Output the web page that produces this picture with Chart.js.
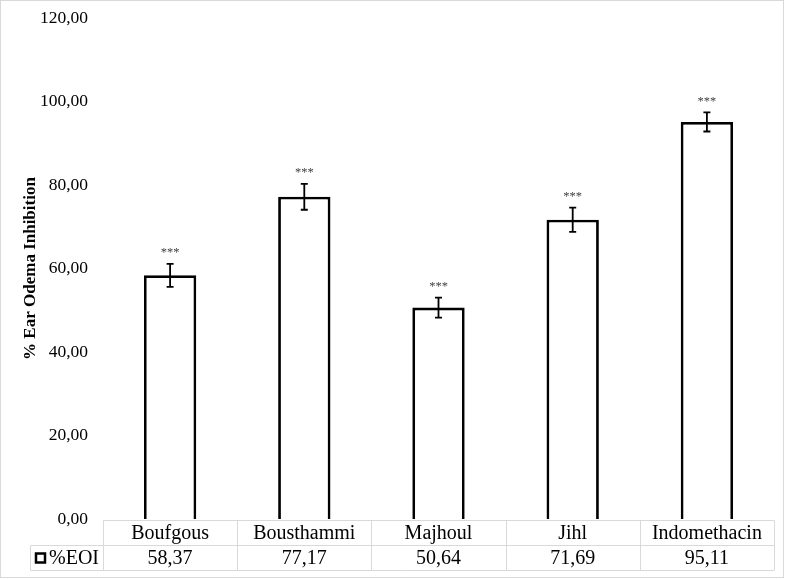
<!DOCTYPE html>
<html>
<head>
<meta charset="utf-8">
<script src="https://cdn.jsdelivr.net/npm/chart.js@4.4.0/dist/chart.umd.min.js"></script>
<style>
  html, body { margin: 0; padding: 0; background: #fff; }
  canvas { display: block; }
</style>
</head>
<body>
<canvas id="c" width="787" height="579"></canvas>
<script>
const categories = ['Boufgous', 'Bousthammi', 'Majhoul', 'Jihl', 'Indomethacin'];
const seriesName = '%EOI';
const values = [58.37, 77.17, 50.64, 71.69, 95.11];
const errors = [2.75, 3.1, 2.4, 2.9, 2.3];
const significance = ['***', '***', '***', '***', '***'];
const yMin = 0, yMax = 120, yStep = 20;
const yTitle = '% Ear Odema Inhibition';

const SERIF = '"Liberation Serif", "Times New Roman", serif';
const fmt = v => Number(v).toFixed(2).replace('.', ',');

const overlayPlugin = {
  id: 'overlay',
  afterDatasetsDraw(chart) {
    const ctx = chart.ctx;
    const x = chart.scales.x, y = chart.scales.y;
    ctx.save();
    values.forEach((v, i) => {
      const cx = x.getPixelForValue(i);
      const yt = y.getPixelForValue(v + errors[i]);
      const yb = y.getPixelForValue(v - errors[i]);
      ctx.strokeStyle = '#000';
      ctx.lineWidth = 1.8;
      ctx.beginPath();
      ctx.moveTo(cx, yt); ctx.lineTo(cx, yb);
      ctx.moveTo(cx - 3.5, yt); ctx.lineTo(cx + 3.5, yt);
      ctx.moveTo(cx - 3.5, yb); ctx.lineTo(cx + 3.5, yb);
      ctx.stroke();
      ctx.fillStyle = '#404040';
      ctx.font = '12.5px ' + SERIF;
      ctx.textAlign = 'center';
      ctx.textBaseline = 'middle';
      ctx.fillText(significance[i], cx, yt - 11);
    });
    ctx.restore();
  },
  afterDraw(chart) {
    const ctx = chart.ctx;
    const x = chart.scales.x;
    const area = chart.chartArea;
    const w = x.getPixelForValue(1) - x.getPixelForValue(0);
    const left = x.getPixelForValue(0) - w / 2;
    const right = x.getPixelForValue(categories.length - 1) + w / 2;
    const y0 = Math.round(area.bottom) + 1.5;
    const y1 = y0 + 25, y2 = y0 + 50;
    const legLeft = 30.5;
    ctx.save();
    ctx.strokeStyle = '#d9d9d9';
    ctx.lineWidth = 1;
    ctx.beginPath();
    ctx.moveTo(left, y0); ctx.lineTo(right, y0);
    ctx.moveTo(legLeft, y1); ctx.lineTo(right, y1);
    ctx.moveTo(legLeft, y2); ctx.lineTo(right, y2);
    ctx.moveTo(legLeft, y1); ctx.lineTo(legLeft, y2);
    for (let i = 0; i <= categories.length; i++) {
      const xx = Math.round(left + i * w) + 0.5;
      ctx.moveTo(xx, y0); ctx.lineTo(xx, y2);
    }
    ctx.stroke();
    ctx.strokeRect(0.5, 0.5, chart.width - 4, chart.height - 2);

    ctx.fillStyle = '#000';
    ctx.font = '20px ' + SERIF;
    ctx.textAlign = 'center';
    ctx.textBaseline = 'middle';
    categories.forEach((c, i) => {
      const cx = x.getPixelForValue(i);
      ctx.fillText(c, cx, (y0 + y1) / 2 + 1);
      ctx.fillText(fmt(values[i]), cx, (y1 + y2) / 2 + 1);
    });
    ctx.fillStyle = '#fff';
    ctx.strokeStyle = '#000';
    ctx.lineWidth = 2.5;
    ctx.fillRect(36, y1 + 8, 9, 9);
    ctx.strokeRect(36, y1 + 8, 9, 9);
    ctx.fillStyle = '#000';
    ctx.textAlign = 'left';
    ctx.fillText(seriesName, 49, (y1 + y2) / 2 + 1);
    ctx.restore();
  }
};

new Chart(document.getElementById('c'), {
  type: 'bar',
  data: {
    labels: categories,
    datasets: [{
      label: seriesName,
      data: values,
      backgroundColor: '#ffffff',
      borderColor: '#000000',
      borderWidth: 2.8,
      barPercentage: 0.39,
      categoryPercentage: 1.0
    }]
  },
  options: {
    responsive: false,
    devicePixelRatio: 1,
    animation: false,
    layout: { padding: { top: 18, right: 13, bottom: 60, left: 0 } },
    plugins: { legend: { display: false }, tooltip: { enabled: false } },
    scales: {
      x: { display: false },
      y: {
        min: yMin, max: yMax,
        afterFit(s) { s.width = 103; s.paddingTop = 0; s.paddingBottom = 0; },
        grid: { display: false, drawTicks: false },
        border: { display: false },
        ticks: {
          stepSize: yStep,
          padding: 15,
          color: '#000',
          font: { family: SERIF, size: 17.5 },
          callback: v => fmt(v)
        },
        title: {
          display: true,
          text: yTitle,
          color: '#000',
          font: { family: SERIF, size: 17, weight: 'bold' },
          padding: { top: 20, bottom: 0 }
        }
      }
    }
  },
  plugins: [overlayPlugin]
});
</script>
</body>
</html>
